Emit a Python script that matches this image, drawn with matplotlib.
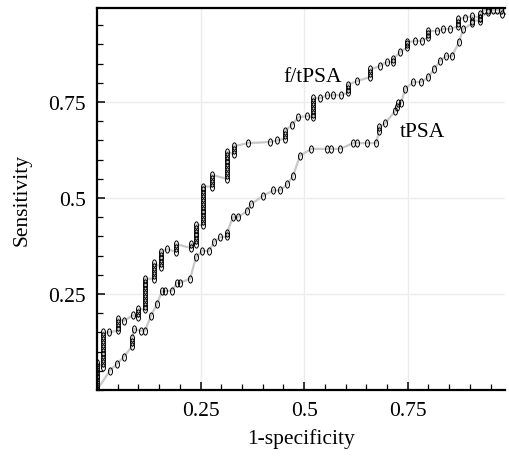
import numpy as np
import matplotlib
matplotlib.use("Agg")
import matplotlib.pyplot as plt
from matplotlib.path import Path
from matplotlib.ticker import FixedLocator, MultipleLocator
import matplotlib.transforms as mtransforms

plt.rcParams['font.family'] = ['Liberation Serif', 'DejaVu Serif']

# f/tPSA curve (1-specificity, sensitivity)
ratio_x = [0, 0, 0, 0, 0, 0, 0, 0,
           0.015, 0.015, 0.015, 0.015, 0.015, 0.015, 0.015, 0.015, 0.015, 0.015,
           0.03,
           0.05, 0.05, 0.05, 0.05,
           0.065, 0.087,
           0.10, 0.10, 0.10,
           0.116, 0.116, 0.116, 0.116, 0.116, 0.116, 0.116, 0.116, 0.116,
           0.138, 0.138, 0.138, 0.138, 0.138,
           0.155, 0.155, 0.155, 0.155, 0.155,
           0.17,
           0.19, 0.19, 0.19,
           0.227, 0.227,
           0.24, 0.24, 0.24, 0.24, 0.24, 0.24,
           0.256, 0.256, 0.256, 0.256, 0.256, 0.256, 0.256, 0.256, 0.256, 0.256, 0.256,
           0.278, 0.278, 0.278, 0.278,
           0.314, 0.314, 0.314, 0.314, 0.314, 0.314, 0.314, 0.314,
           0.33, 0.33, 0.33,
           0.365, 0.418, 0.435,
           0.454, 0.454, 0.454,
           0.47, 0.486, 0.507,
           0.522, 0.522, 0.522, 0.522, 0.522, 0.522,
           0.539, 0.555, 0.57, 0.59,
           0.606, 0.606, 0.606,
           0.628,
           0.66, 0.66, 0.66,
           0.683, 0.70,
           0.715, 0.715,
           0.732,
           0.749, 0.749, 0.749,
           0.768, 0.785,
           0.80, 0.80, 0.80,
           0.821, 0.836, 0.853,
           0.872, 0.872, 0.872,
           0.889, 0.906,
           0.925, 0.925,
           0.935, 0.945, 0.955, 0.965, 0.975, 0.985]
ratio_y = [0.0, 0.01, 0.02, 0.03, 0.04, 0.05, 0.06, 0.07,
           0.06, 0.07, 0.08, 0.09, 0.10, 0.11, 0.12, 0.13, 0.14, 0.15,
           0.15,
           0.155, 0.165, 0.175, 0.185,
           0.18, 0.195,
           0.19, 0.20, 0.21,
           0.21, 0.22, 0.23, 0.24, 0.25, 0.26, 0.27, 0.28, 0.29,
           0.29, 0.30, 0.31, 0.32, 0.33,
           0.32, 0.33, 0.34, 0.35, 0.36,
           0.367,
           0.36, 0.37, 0.38,
           0.37, 0.38,
           0.38, 0.39, 0.40, 0.41, 0.42, 0.43,
           0.43, 0.44, 0.45, 0.46, 0.47, 0.48, 0.49, 0.50, 0.51, 0.52, 0.53,
           0.53, 0.54, 0.55, 0.56,
           0.55, 0.56, 0.57, 0.58, 0.59, 0.60, 0.61, 0.62,
           0.615, 0.625, 0.635,
           0.643, 0.646, 0.65,
           0.655, 0.665, 0.675,
           0.69, 0.71, 0.714,
           0.71, 0.72, 0.73, 0.74, 0.75, 0.76,
           0.76, 0.768, 0.768, 0.768,
           0.775, 0.785, 0.795,
           0.805,
           0.815, 0.825, 0.835,
           0.844, 0.854,
           0.855, 0.862,
           0.88,
           0.893, 0.90, 0.906,
           0.909, 0.909,
           0.92, 0.928, 0.935,
           0.935, 0.94, 0.94,
           0.948, 0.957, 0.966,
           0.97, 0.974,
           0.97, 0.98,
           0.99, 0.99, 0.99, 0.99, 0.99, 0.99]

# tPSA curve
tpsa_x = [0, 0.031, 0.048, 0.065,
          0.085, 0.085, 0.085,
          0.089, 0.106, 0.116, 0.13, 0.145, 0.157, 0.164, 0.181, 0.193, 0.20,
          0.225, 0.239, 0.254, 0.27, 0.283, 0.297, 0.314, 0.314, 0.328, 0.34,
          0.362, 0.372, 0.40, 0.425, 0.442, 0.459, 0.473, 0.49, 0.517, 0.556,
          0.565, 0.587, 0.618, 0.628, 0.652, 0.674, 0.681, 0.681, 0.696, 0.72,
          0.725, 0.727, 0.734, 0.744, 0.763, 0.783, 0.80, 0.814, 0.828, 0.843,
          0.857, 0.874, 0.884, 0.906, 0.906, 0.925, 0.925, 0.944, 0.978]
tpsa_y = [0, 0.05, 0.068, 0.086,
          0.115, 0.125, 0.135,
          0.159, 0.154, 0.154, 0.193, 0.224, 0.258, 0.258, 0.258, 0.279, 0.279,
          0.29, 0.346, 0.362, 0.362, 0.385, 0.398, 0.40, 0.41, 0.45, 0.45,
          0.466, 0.484, 0.505, 0.52, 0.52, 0.536, 0.557, 0.61, 0.628, 0.628,
          0.628, 0.628, 0.643, 0.643, 0.643, 0.643, 0.675, 0.685, 0.695, 0.727,
          0.737, 0.747, 0.747, 0.784, 0.802, 0.802, 0.815, 0.836, 0.857, 0.87,
          0.87, 0.906, 0.94, 0.955, 0.962, 0.962, 0.97, 0.984, 0.98]

# tall narrow "0"-like marker
ell = Path.unit_circle().transformed(mtransforms.Affine2D().scale(0.55, 1.0))

fig = plt.figure(figsize=(5.09, 4.6), dpi=100)
ax = fig.add_axes([97/509, 69/460, 408/509, 382/460])

for xs, ys in [(ratio_x, ratio_y), (tpsa_x, tpsa_y)]:
    ax.plot(xs, ys, color='#c8c8c8', lw=1.6, zorder=2)
    ax.plot(xs, ys, ls='none', marker=ell, markersize=5.2,
            markerfacecolor='none', markeredgecolor='black', markeredgewidth=0.7,
            zorder=3)

ax.set_xlim(0, 0.985)
ax.set_ylim(0, 0.995)

ax.xaxis.set_major_locator(FixedLocator([0.25, 0.5, 0.75]))
ax.yaxis.set_major_locator(FixedLocator([0.25, 0.5, 0.75]))
ax.xaxis.set_minor_locator(MultipleLocator(0.05))
ax.yaxis.set_minor_locator(MultipleLocator(0.05))
ax.set_xticklabels(['0.25', '0.5', '0.75'])
ax.set_yticklabels(['0.25', '0.5', '0.75'])

ax.tick_params(which='both', direction='in', top=False, right=False,
               labelsize=15.5, color='black')
ax.tick_params(which='major', length=6, width=1.1, pad=8)
ax.tick_params(which='minor', length=4, width=0.9)

ax.grid(True, which='major', color='#ececec', lw=1.0, zorder=0)

for s in ['left', 'bottom', 'top']:
    ax.spines[s].set_linewidth(1.6)
ax.spines['right'].set_visible(False)

ax.set_xlabel('1-specificity', fontsize=15.5, labelpad=6)
ax.set_ylabel('Sensitivity', fontsize=15.5, labelpad=12)

ax.text(0.449, 0.805, 'f/tPSA', fontsize=15.5, va='baseline', ha='left')
ax.text(0.732, 0.661, 'tPSA', fontsize=15.5, va='baseline', ha='left')

fig.savefig('out.png', dpi=100)
